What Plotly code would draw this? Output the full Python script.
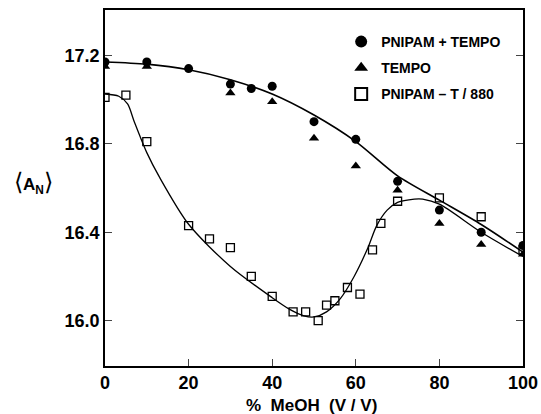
import plotly.graph_objects as go

# Measured data
x_pt = [0, 10, 20, 30, 35, 40, 50, 60, 70, 80, 90, 100]
y_pt = [17.17, 17.17, 17.14, 17.07, 17.05, 17.06, 16.90, 16.82, 16.63, 16.50, 16.40, 16.34]

x_tempo = [0, 10, 30, 40, 50, 60, 70, 80, 90, 100]
y_tempo = [17.15, 17.15, 17.03, 16.99, 16.825, 16.70, 16.59, 16.44, 16.345, 16.30]

x_pnt = [0, 5, 10, 20, 25, 30, 35, 40, 45, 48, 51, 53, 55, 58, 61, 64, 66, 70, 80, 90, 100]
y_pnt = [17.01, 17.02, 16.81, 16.43, 16.37, 16.33, 16.20, 16.11, 16.04, 16.04, 16.00, 16.07,
         16.09, 16.15, 16.12, 16.32, 16.44, 16.54, 16.555, 16.47, 16.32]

# Fitted curves
x_fit1 = [0, 10, 20, 30, 40, 50, 60, 70, 80, 90, 100]
y_fit1 = [17.17, 17.16, 17.135, 17.09, 17.025, 16.93, 16.81, 16.655, 16.545, 16.435, 16.31]

x_fit2 = [0, 3.3, 5.4, 7, 10, 13, 20, 30, 40, 44.3, 47.6, 50, 53, 56.3, 59.6, 62.9, 65, 67.5,
          70, 74, 76, 80, 90, 100]
y_fit2 = [17.025, 17.015, 16.98, 16.90, 16.76, 16.65, 16.436, 16.245, 16.104, 16.05, 16.022,
          16.017, 16.04, 16.10, 16.20, 16.33, 16.43, 16.50, 16.535, 16.55, 16.55, 16.527,
          16.40, 16.29]

xticks = [0, 20, 40, 60, 80, 100]
yticks = [16.0, 16.4, 16.8, 17.2]

FONT = "Liberation Sans"

fig = go.Figure()
fig.add_trace(go.Scatter(x=x_fit1, y=y_fit1, mode="lines", line=dict(color="black", width=1.6, shape="spline", smoothing=0.8), showlegend=False, hoverinfo="skip"))
fig.add_trace(go.Scatter(x=x_fit2, y=y_fit2, mode="lines", line=dict(color="black", width=1.3, shape="spline", smoothing=0.8), showlegend=False, hoverinfo="skip"))

fig.add_trace(go.Scatter(x=x_pt, y=y_pt, mode="markers", name="PNIPAM + TEMPO", legendgroup="a",
                         marker=dict(symbol="circle", size=9, color="black")))
fig.add_trace(go.Scatter(x=x_tempo, y=y_tempo, mode="markers", name="TEMPO", legendgroup="b",
                         marker=dict(symbol="triangle-up", size=9, color="black")))
fig.add_trace(go.Scatter(x=x_pnt, y=y_pnt, mode="markers", name="PNIPAM – T / 880", legendgroup="c",
                         marker=dict(symbol="square-open", size=8, color="black", line=dict(width=1.3))))

fig.update_layout(
    width=541, height=414,
    margin=dict(l=105, r=18, t=10, b=48, autoexpand=False),
    plot_bgcolor="white", paper_bgcolor="white",
    font=dict(family=FONT, color="black"),
    legend=dict(x=0.565, y=0.955, xanchor="left", yanchor="top",
                font=dict(family=FONT, size=14, color="black", weight="bold"),
                bgcolor="rgba(0,0,0,0)", tracegroupgap=5, itemsizing="constant"),
    xaxis=dict(range=[0, 100], tickvals=xticks, ticks="inside", ticklen=7, tickwidth=1.3,
               showline=True, linecolor="black", linewidth=1.6, mirror=True, showgrid=False,
               zeroline=False, tickfont=dict(family=FONT, size=18, weight="bold"),
               ticklabeloverflow="allow", automargin=False),
    yaxis=dict(range=[15.795, 17.405], tickvals=yticks, ticktext=["16.0", "16.4", "16.8", "17.2"],
               ticks="inside", ticklen=7, tickwidth=1.3, automargin=False,
               showline=True, linecolor="black", linewidth=1.6, mirror="ticks", showgrid=False,
               zeroline=False, tickfont=dict(family=FONT, size=18, weight="bold")),
)
fig.add_annotation(text="<span style='font-size:24px;font-weight:normal'>⟨</span>"
                        "A<sub>N</sub>"
                        "<span style='font-size:24px;font-weight:normal'>⟩</span>",
                   xref="paper", yref="paper", x=-0.12, y=0.515,
                   xanchor="right", yanchor="middle", showarrow=False,
                   font=dict(family=FONT, size=17, color="black", weight="bold"))
fig.add_annotation(text="%  MeOH  (V / V)", xref="paper", yref="paper", x=0.495, y=-0.11,
                   xanchor="center", yanchor="middle", showarrow=False,
                   font=dict(family=FONT, size=17, color="black", weight="bold"))

fig.write_html("out.html")
